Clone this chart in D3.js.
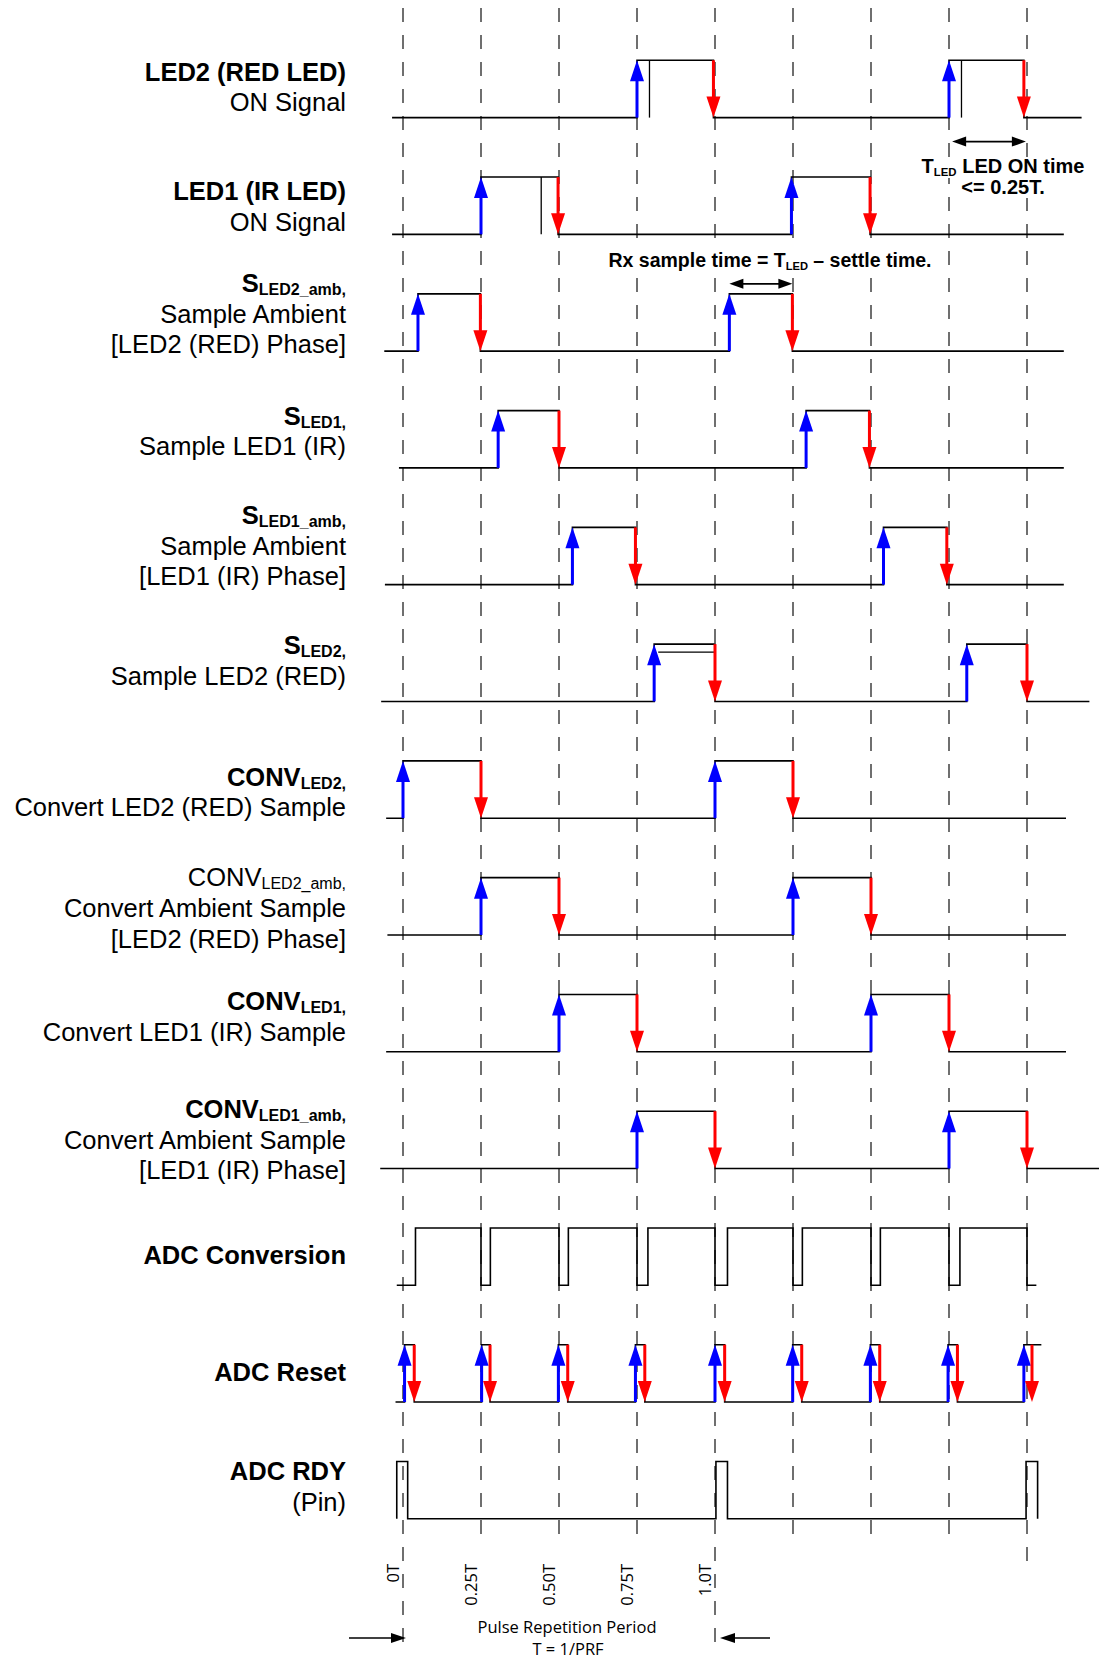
<!DOCTYPE html>
<html><head><meta charset="utf-8">
<script src="https://cdn.jsdelivr.net/npm/d3@7"></script>
<style>body{margin:0;background:#fff}</style>
</head><body>
<svg id="c" width="1099" height="1660" xmlns="http://www.w3.org/2000/svg"></svg>
<script>
// ===== DATA (times in units of the period T) =====
const gridT = [0, 0.25, 0.5, 0.75, 1, 1.25, 1.5, 1.75, 2];
const tickT = [0, 0.25, 0.5, 0.75, 1];
const tickLabels = ["0T", "0.25T", "0.50T", "0.75T", "1.0T"];

const led2Rise = [0.75, 1.75],   led2Fall = [0.995, 1.99],  led2Span = [-0.035, 2.175], led2Inner = [0.79, 1.79];
const led1Rise = [0.25, 1.245],  led1Fall = [0.497, 1.497], led1Span = [-0.035, 2.118], led1Inner = [0.443];
const sLed2AmbRise = [0.048, 1.046], sLed2AmbFall = [0.248, 1.248], sLed2AmbSpan = [-0.06, 2.118];
const sLed1Rise = [0.305, 1.292],    sLed1Fall = [0.5, 1.495],      sLed1Span = [-0.013, 2.118];
const sLed1AmbRise = [0.543, 1.54],  sLed1AmbFall = [0.745, 1.743], sLed1AmbSpan = [-0.058, 2.118];
const sLed2Rise = [0.805, 1.807],    sLed2Fall = [1.0, 2.0],        sLed2Span = [-0.07, 2.2], sLed2InnerTop = [[0.818, 0.997]];
const convLed2Rise = [0.0, 1.0],     convLed2Fall = [0.25, 1.25],   convLed2Span = [-0.054, 2.125];
const convLed2AmbRise = [0.25, 1.25], convLed2AmbFall = [0.5, 1.5], convLed2AmbSpan = [-0.05, 2.125];
const convLed1Rise = [0.5, 1.5],     convLed1Fall = [0.75, 1.75],   convLed1Span = [-0.054, 2.125];
const convLed1AmbRise = [0.75, 1.75], convLed1AmbFall = [1.0, 2.0], convLed1AmbSpan = [-0.073, 2.24];
const adcConvRise = [0.04, 0.28, 0.53, 0.785, 1.04, 1.28, 1.53, 1.785];
const adcConvFall = [0.25, 0.5, 0.75, 1.0, 1.25, 1.5, 1.75, 2.0];
const adcConvSpan = [-0.02, 2.03];
const adcResetRise = [0.005, 0.252, 0.498, 0.745, 1.0, 1.249, 1.498, 1.747, 1.99];
const adcResetFall = [0.036, 0.279, 0.528, 0.775, 1.031, 1.278, 1.528, 1.777, 2.016];
const adcResetSpan = [-0.024, 2.046];
const adcRdyRise = [-0.02, 1.003, 1.997];
const adcRdyFall = [0.015, 1.04, 2.034];
const adcRdySpan = [-0.02, 2.034];

// label text lines: [text, style]  b=bold, r=regular, bs=bold subscript, rs=regular subscript
const signalLabels = [
  [[["LED2 (RED LED)", "b"]], [["ON Signal", "r"]]],
  [[["LED1 (IR LED)", "b"]], [["ON Signal", "r"]]],
  [[["S", "b"], ["LED2_amb", "bs"], [",", "bs"]], [["Sample Ambient", "r"]], [["[LED2 (RED) Phase]", "r"]]],
  [[["S", "b"], ["LED1", "bs"], [",", "bs"]], [["Sample LED1 (IR)", "r"]]],
  [[["S", "b"], ["LED1_amb", "bs"], [",", "bs"]], [["Sample Ambient", "r"]], [["[LED1 (IR) Phase]", "r"]]],
  [[["S", "b"], ["LED2", "bs"], [",", "bs"]], [["Sample LED2 (RED)", "r"]]],
  [[["CONV", "b"], ["LED2", "bs"], [",", "bs"]], [["Convert LED2 (RED) Sample", "r"]]],
  [[["CONV", "r"], ["LED2_amb", "rs"], [",", "rs"]], [["Convert Ambient Sample", "r"]], [["[LED2 (RED) Phase]", "r"]]],
  [[["CONV", "b"], ["LED1", "bs"], [",", "bs"]], [["Convert LED1 (IR) Sample", "r"]]],
  [[["CONV", "b"], ["LED1_amb", "bs"], [",", "bs"]], [["Convert Ambient Sample", "r"]], [["[LED1 (IR) Phase]", "r"]]],
  [[["ADC Conversion", "b"]]],
  [[["ADC Reset", "b"]]],
  [[["ADC RDY", "b"]], [["(Pin)", "r"]]]
];

// ===== LAYOUT =====
const W = 1099, H = 1660;
const svg = d3.select("#c");
const x = d3.scaleLinear().domain([0, 2]).range([403, 1027]);
const rowLow = d3.scaleLinear().domain([0, 12]).range([117.6, 1518.8]);
const pulseH = 57.3;
const gridTop = 8;
const gridEnd = [1653, 1536, 1536, 1536, 1650, 1536, 1536, 1536, 1562];
const labelX = 346;
const labelFirstBaseline = [80.5, 200, 292, 424.5, 524, 654.4, 785.5, 886.2, 1010, 1118, 1264.2, 1380.7, 1480.2];
const lineGap = 30.7;
const FONT = "'Liberation Sans', Arial, Helvetica, sans-serif";

const rows = [
  {rise: led2Rise, fall: led2Fall, span: led2Span, arrows: true, inner: led2Inner},
  {rise: led1Rise, fall: led1Fall, span: led1Span, arrows: true, inner: led1Inner},
  {rise: sLed2AmbRise, fall: sLed2AmbFall, span: sLed2AmbSpan, arrows: true},
  {rise: sLed1Rise, fall: sLed1Fall, span: sLed1Span, arrows: true},
  {rise: sLed1AmbRise, fall: sLed1AmbFall, span: sLed1AmbSpan, arrows: true},
  {rise: sLed2Rise, fall: sLed2Fall, span: sLed2Span, arrows: true, innerTop: sLed2InnerTop},
  {rise: convLed2Rise, fall: convLed2Fall, span: convLed2Span, arrows: true},
  {rise: convLed2AmbRise, fall: convLed2AmbFall, span: convLed2AmbSpan, arrows: true},
  {rise: convLed1Rise, fall: convLed1Fall, span: convLed1Span, arrows: true},
  {rise: convLed1AmbRise, fall: convLed1AmbFall, span: convLed1AmbSpan, arrows: true},
  {rise: adcConvRise, fall: adcConvFall, span: adcConvSpan, arrows: false},
  {rise: adcResetRise, fall: adcResetFall, span: adcResetSpan, arrows: true, pathFall: adcResetFall.slice(0, -1)},
  {rise: adcRdyRise, fall: adcRdyFall, span: adcRdySpan, arrows: false}
];

svg.append("rect").attr("width", W).attr("height", H).attr("fill", "#fff");

// dashed time grid
svg.append("g").selectAll("line").data(gridT).join("line")
  .attr("x1", d => x(d)).attr("x2", d => x(d))
  .attr("y1", gridTop).attr("y2", (d, i) => gridEnd[i])
  .attr("stroke", "#333").attr("stroke-width", 1.4)
  .attr("stroke-dasharray", "14,13");

// waveforms
const wave = svg.append("g").attr("fill", "none").attr("stroke", "#000").attr("stroke-width", 1.6);
function wavePath(r, lo, hi) {
  const falls = r.pathFall || r.fall;
  const ev = r.rise.map(t => ({t, up: true})).concat(falls.map(t => ({t, up: false})))
    .sort((a, b) => a.t - b.t);
  const p = d3.path();
  p.moveTo(x(r.span[0]), lo);
  let cx = x(r.span[0]), cy = lo;
  ev.forEach(e => {
    cx = x(e.t); p.lineTo(cx, cy);
    cy = e.up ? hi : lo; p.lineTo(cx, cy);
  });
  p.lineTo(x(r.span[1]), cy);
  return p.toString();
}
rows.forEach((r, i) => {
  const lo = rowLow(i), hi = lo - pulseH;
  wave.append("path").attr("d", wavePath(r, lo, hi));
  if (r.inner) r.inner.forEach(t => wave.append("line")
    .attr("x1", x(t)).attr("x2", x(t)).attr("y1", hi).attr("y2", lo).attr("stroke-width", 1.3));
  if (r.innerTop) r.innerTop.forEach(s => wave.append("line")
    .attr("x1", x(s[0])).attr("x2", x(s[1])).attr("y1", hi + 8).attr("y2", hi + 8).attr("stroke-width", 1.3));
});

// edge arrows
const arr = svg.append("g");
const headL = 21, headW = 7;
function upArrow(xx, lo, hi, col) {
  arr.append("line").attr("x1", xx).attr("x2", xx).attr("y1", lo).attr("y2", hi + headL - 2)
    .attr("stroke", col).attr("stroke-width", 3);
  arr.append("path").attr("d", `M${xx},${hi}L${xx - headW},${hi + headL}L${xx + headW},${hi + headL}Z`).attr("fill", col);
}
function downArrow(xx, lo, hi, col) {
  arr.append("line").attr("x1", xx).attr("x2", xx).attr("y1", hi).attr("y2", lo - headL + 2)
    .attr("stroke", col).attr("stroke-width", 3);
  arr.append("path").attr("d", `M${xx},${lo}L${xx - headW},${lo - headL}L${xx + headW},${lo - headL}Z`).attr("fill", col);
}
rows.forEach((r, i) => {
  if (!r.arrows) return;
  const lo = rowLow(i), hi = lo - pulseH;
  r.rise.forEach(t => upArrow(x(t), lo, hi, "#0000ff"));
  r.fall.forEach(t => downArrow(x(t), lo, hi, "#ff0000"));
});

// double-headed annotation arrows
function dblArrow(x1, x2, y) {
  const g = svg.append("g");
  const hl = 14, hw = 5;
  g.append("line").attr("x1", x1 + hl - 2).attr("x2", x2 - hl + 2).attr("y1", y).attr("y2", y)
    .attr("stroke", "#000").attr("stroke-width", 1.6);
  g.append("path").attr("d", `M${x1},${y}L${x1 + hl},${y - hw}L${x1 + hl},${y + hw}Z`).attr("fill", "#000");
  g.append("path").attr("d", `M${x2},${y}L${x2 - hl},${y - hw}L${x2 - hl},${y + hw}Z`).attr("fill", "#000");
}
dblArrow(x(led2Rise[1] + 0.01), x(led2Fall[1]) + 2, rowLow(0) + 24);
dblArrow(x(sLed2AmbRise[1]), x(sLed2AmbFall[1]), rowLow(2) - pulseH - 10);

const annG = svg.append("g");
function annot(cx, y, parts, size) {
  const g = annG.append("g");
  const bg = g.append("rect").attr("fill", "#fff");
  const t = g.append("text").attr("x", cx).attr("y", y).attr("text-anchor", "middle")
    .attr("font-family", FONT).attr("font-weight", "bold").attr("font-size", size).attr("fill", "#000");
  let shifted = false;
  parts.forEach(([s, sub]) => {
    const ts = t.append("tspan").text(s);
    if (sub) { ts.attr("font-size", size * 0.57); if (!shifted) { ts.attr("dy", 3); shifted = true; } }
    else if (shifted) { ts.attr("dy", -3); shifted = false; }
  });
  const b = t.node().getBBox();
  bg.attr("x", b.x - 1).attr("y", b.y + 2).attr("width", b.width + 2).attr("height", b.height - 2);
}
annot(1003, 173, [["T", false], ["LED", true], [" LED ON time", false]], 20);
annot(1003, 194, [["<= 0.25T.", false]], 20);
annot(770, 267, [["Rx sample time = T", false], ["LED", true], [" \u2013 settle time.", false]], 19.5);

// signal labels
const labG = svg.append("g").attr("font-family", FONT).attr("fill", "#000").attr("text-anchor", "end");
signalLabels.forEach((lines, i) => {
  lines.forEach((spans, j) => {
    const t = labG.append("text").attr("x", labelX).attr("y", labelFirstBaseline[i] + j * lineGap);
    let inSub = false;
    spans.forEach(([s, st]) => {
      const ts = t.append("tspan").text(s)
        .attr("font-weight", st[0] === "b" ? "bold" : "normal")
        .attr("font-size", st.length > 1 ? 16 : 25.5);
      if (st.length > 1 && !inSub) { ts.attr("dy", 3); inSub = true; }
      else if (st.length === 1 && inSub) { ts.attr("dy", -3); inSub = false; }
    });
  });
});

// bottom tick labels (rotated)
svg.append("g").selectAll("text").data(tickT).join("text")
  .attr("transform", d => `translate(${x(d) - 4.5},1564) rotate(-90)`)
  .attr("text-anchor", "end")
  .attr("font-family", "'Open Sans', sans-serif").attr("font-size", 16.5).attr("fill", "#000")
  .text((d, i) => tickLabels[i]);

// pulse repetition period annotation
const py = 1638;
const pg = svg.append("g");
pg.append("line").attr("x1", 349).attr("x2", x(0) + 3 - 12).attr("y1", py).attr("y2", py).attr("stroke", "#000").attr("stroke-width", 1.5);
pg.append("path").attr("d", `M${x(0) + 3},${py}L${x(0) + 3 - 15},${py - 5}L${x(0) + 3 - 15},${py + 5}Z`).attr("fill", "#000");
pg.append("line").attr("x1", 770).attr("x2", x(1) + 5 + 12).attr("y1", py).attr("y2", py).attr("stroke", "#000").attr("stroke-width", 1.5);
pg.append("path").attr("d", `M${x(1) + 5},${py}L${x(1) + 5 + 15},${py - 5}L${x(1) + 5 + 15},${py + 5}Z`).attr("fill", "#000");
pg.append("text").attr("x", 567).attr("y", 1633).attr("text-anchor", "middle")
  .attr("font-family", "'Open Sans', sans-serif").attr("font-size", 16.5).attr("fill", "#000")
  .text("Pulse Repetition Period");
pg.append("text").attr("x", 568).attr("y", 1655).attr("text-anchor", "middle")
  .attr("font-family", "'Open Sans', sans-serif").attr("font-size", 16.5).attr("fill", "#000")
  .text("T = 1/PRF");
</script>
</body></html>
